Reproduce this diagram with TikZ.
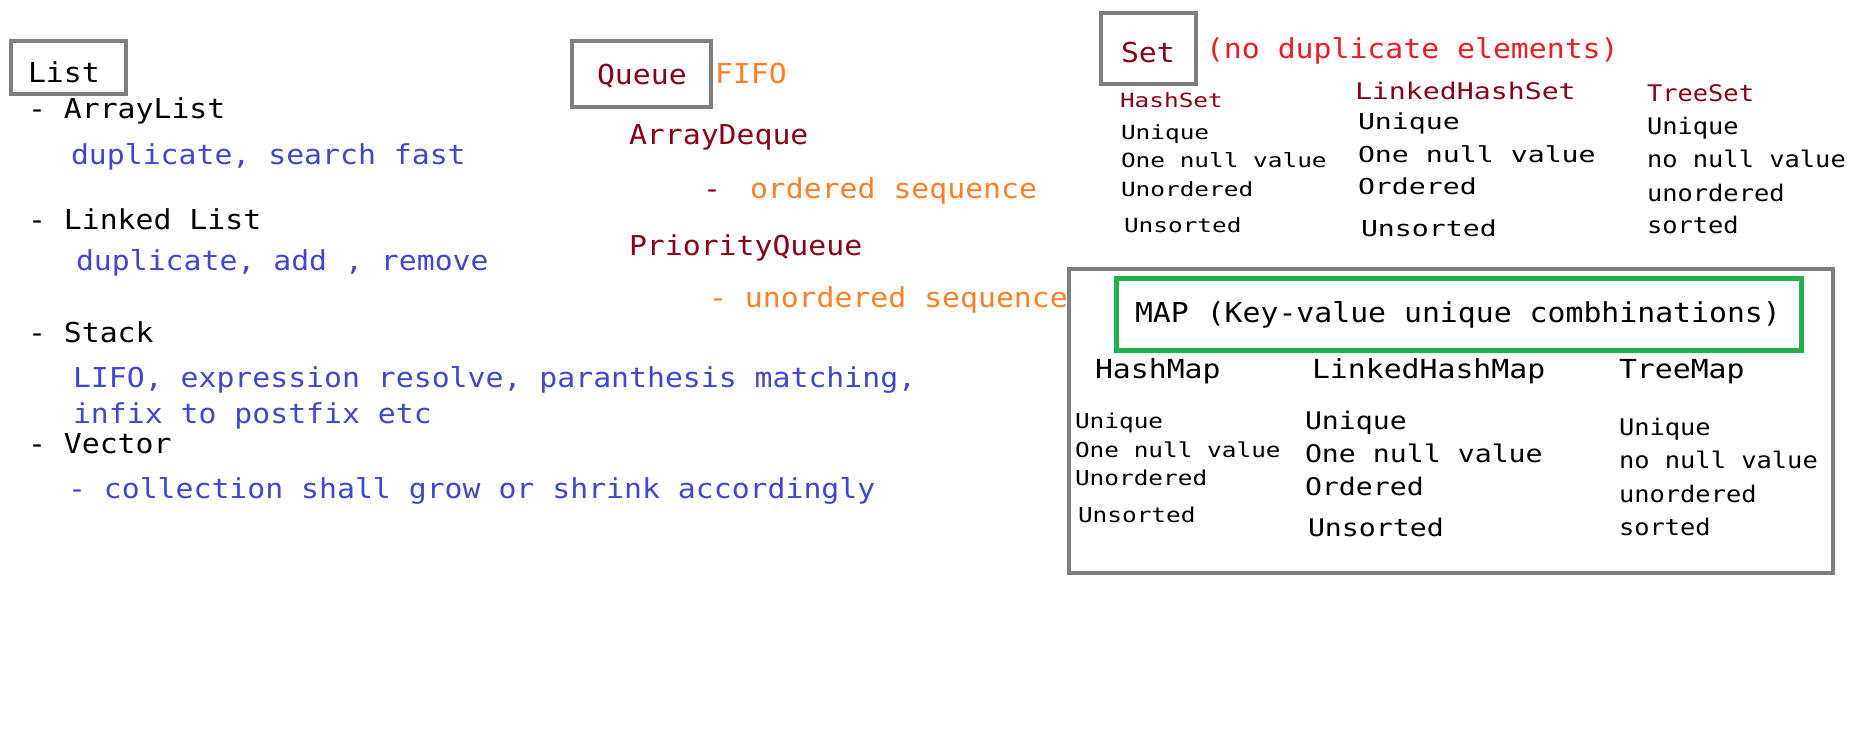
\documentclass[tikz,border=0pt]{standalone}
\usepackage{fontspec}
\newfontfamily\codefont{DejaVu Sans Mono}
\definecolor{boxgray}{RGB}{127,127,127}
\definecolor{txtblue}{RGB}{63,72,204}
\definecolor{txtorange}{RGB}{255,127,39}
\definecolor{txtmaroon}{RGB}{136,0,21}
\definecolor{txtred}{RGB}{237,28,36}
\definecolor{mapgreen}{RGB}{34,177,76}
\begin{document}
\begin{tikzpicture}[x=1pt,y=-1pt,
  txt/.style={anchor=base west, inner sep=0pt, outer sep=0pt},
  fbig/.style={txt, font=\codefont\fontsize{29.8}{30}\selectfont, yscale=0.92},
  fhead/.style={txt, font=\codefont\fontsize{29.8}{30}\selectfont, yscale=0.88},
  fhs/.style={txt, font=\codefont\fontsize{24.4}{25}\selectfont, yscale=0.80},
  flhs/.style={txt, font=\codefont\fontsize{28.2}{29}\selectfont, yscale=0.78},
  fts/.style={txt, font=\codefont\fontsize{25.4}{26}\selectfont, yscale=0.90},
  fhm/.style={txt, font=\codefont\fontsize{24.4}{25}\selectfont, yscale=0.84},
  flhm/.style={txt, font=\codefont\fontsize{28.2}{29}\selectfont, yscale=0.86},
  ftm/.style={txt, font=\codefont\fontsize{25.4}{26}\selectfont, yscale=0.90},
  frame/.style={draw=boxgray, line width=4.3pt, inner sep=0pt, outer sep=0pt},
  greenframe/.style={draw=mapgreen, line width=5pt, inner sep=0pt, outer sep=0pt}]

\fill[white] (0,0) rectangle (1852,743);
\useasboundingbox (0,0) rectangle (1852,743);

% ---------- List ----------
\node[frame, minimum width=115, minimum height=53] (listbox) at (68.5,67.5) {};
\node[fbig] (list) at (28,83) {List};
\node[fbig] (arraylist) at (28,119) {- ArrayList};
\node[fbig, txtblue] (arraylistd) at (71,165) {duplicate, search fast};
\node[fbig] (linkedlist) at (28,230) {- Linked List};
\node[fbig, txtblue] (linkedlistd) at (76,271) {duplicate, add , remove};
\node[fbig] (stack) at (28,342) {- Stack};
\node[fbig, txtblue] (stackd1) at (73,387) {LIFO, expression resolve, paranthesis matching,};
\node[fbig, txtblue] (stackd2) at (73,423) {infix to postfix etc};
\node[fbig] (vector) at (28,453) {- Vector};
\node[fbig, txtblue] (vectord) at (68,498) {- collection shall grow or shrink accordingly};

% ---------- Queue ----------
\node[frame, minimum width=139, minimum height=66] (queuebox) at (641.5,74) {};
\node[fbig, txtmaroon] (queue) at (597,85) {Queue};
\node[fbig, txtorange] (fifo) at (715,84) {FIFO};
\node[fbig, txtmaroon] (arraydeque) at (629,145) {ArrayDeque};
\node[fbig, txtmaroon] (dqdash) at (703,199) {-};
\node[fbig, txtorange] (dqdesc) at (750,199) {ordered sequence};
\node[fbig, txtmaroon] (prioq) at (629,256) {PriorityQueue};
\node[fbig, txtorange] (prioqd) at (709,307) {- unordered sequence};

% ---------- Set ----------
\node[frame, minimum width=95, minimum height=71] (setbox) at (1148.5,48.5) {};
\node[fbig, txtmaroon] (set) at (1121,63) {Set};
\node[fbig, txtred] (setnote) at (1206,59) {(no duplicate elements)};

\node[fhs, txtmaroon] (hs) at (1120,108) {HashSet};
\node[fhs] (hs1) at (1121,140) {Unique};
\node[fhs] (hs2) at (1121,168) {One null value};
\node[fhs] (hs3) at (1121,197) {Unordered};
\node[fhs] (hs4) at (1124,233) {Unsorted};

\node[flhs, txtmaroon, yscale=1.04] (lhs) at (1355,100) {LinkedHashSet};
\node[flhs] (lhs1) at (1358,130) {Unique};
\node[flhs] (lhs2) at (1358,163) {One null value};
\node[flhs] (lhs3) at (1358,195) {Ordered};
\node[flhs] (lhs4) at (1361,237) {Unsorted};

\node[fts, txtmaroon] (ts) at (1647,102) {TreeSet};
\node[fts] (ts1) at (1647,135) {Unique};
\node[fts] (ts2) at (1647,168) {no null value};
\node[fts] (ts3) at (1647,202) {unordered};
\node[fts] (ts4) at (1647,234) {sorted};

% ---------- Map ----------
\node[frame, minimum width=764, minimum height=304] (mapbox) at (1451,421) {};
\node[greenframe, minimum width=685, minimum height=72] (maptitlebox) at (1459,314.5) {};
\node[fbig] (maptitle) at (1135,323) {MAP (Key-value unique combhinations)};

\node[fhead] (hm) at (1095,378) {HashMap};
\node[fhead] (lhm) at (1312,378) {LinkedHashMap};
\node[fhead] (tm) at (1619,378) {TreeMap};

\node[fhm] (hm1) at (1075,428) {Unique};
\node[fhm] (hm2) at (1075,457) {One null value};
\node[fhm] (hm3) at (1075,485) {Unordered};
\node[fhm] (hm4) at (1078,522) {Unsorted};

\node[flhm] (lhm1) at (1305,429) {Unique};
\node[flhm] (lhm2) at (1305,462) {One null value};
\node[flhm] (lhm3) at (1305,495) {Ordered};
\node[flhm] (lhm4) at (1308,536) {Unsorted};

\node[ftm] (tm1) at (1619,435) {Unique};
\node[ftm] (tm2) at (1619,468) {no null value};
\node[ftm] (tm3) at (1619,502) {unordered};
\node[ftm] (tm4) at (1619,535) {sorted};
\end{tikzpicture}
\end{document}
